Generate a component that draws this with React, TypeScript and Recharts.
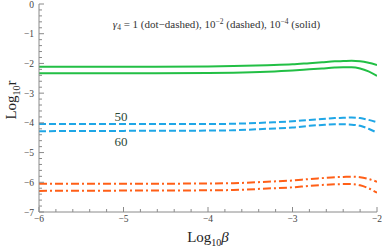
import React from 'react';
import { LineChart, Line, XAxis, YAxis, ReferenceDot } from 'recharts';

const logBeta = [-6, -5, -4, -3.7, -3.3, -3, -2.8, -2.65, -2.5, -2.4, -2.3, -2.2, -2.1, -2];
const greenUpper = [-2.11, -2.11, -2.1, -2.09, -2.06, -2.03, -1.99, -1.96, -1.93, -1.92, -1.91, -1.93, -1.98, -2.05];
const greenLower = [-2.33, -2.33, -2.32, -2.31, -2.28, -2.24, -2.2, -2.17, -2.14, -2.13, -2.13, -2.17, -2.27, -2.42];
const blueUpper = [-4.04, -4.04, -4.04, -4.03, -3.99, -3.95, -3.9, -3.87, -3.84, -3.83, -3.82, -3.84, -3.9, -3.98];
const blueLower = [-4.28, -4.27, -4.26, -4.25, -4.2, -4.16, -4.1, -4.07, -4.05, -4.05, -4.06, -4.1, -4.2, -4.33];
const orangeUpper = [-6.05, -6.05, -6.04, -6.03, -5.98, -5.94, -5.89, -5.86, -5.83, -5.82, -5.81, -5.83, -5.89, -5.98];
const orangeLower = [-6.29, -6.28, -6.27, -6.26, -6.21, -6.17, -6.12, -6.09, -6.07, -6.06, -6.06, -6.1, -6.2, -6.35];

const xTicks: number[] = [];
for (let i = -30; i <= -10; i++) xTicks.push(Math.round(i * 2) / 10);
const yTicks: number[] = [];
for (let i = -35; i <= 0; i++) yTicks.push(Math.round(i * 2) / 10);

const data = logBeta.map((b, i) => ({
  b,
  gu: greenUpper[i],
  gl: greenLower[i],
  bu: blueUpper[i],
  bl: blueLower[i],
  ou: orangeUpper[i],
  ol: orangeLower[i],
}));

const FONT = '"Liberation Serif", "DejaVu Serif", serif';
const FRAME = '#8a8a8a';
const TICKTXT = '#444';
const fmt = (v: number) => (v < 0 ? '\u2212' + Math.abs(v) : String(v));
const isMajor = (v: number) => Math.abs(v - Math.round(v)) < 1e-6;

const BottomTick = (p: any) => {
  const { x, y, payload } = p;
  const major = isMajor(payload.value);
  return (
    <g>
      <line x1={x} y1={y} x2={x} y2={y - (major ? 5 : 3)} stroke={FRAME} strokeWidth={1} />
      {major && (
        <text x={x} y={y + 10} textAnchor="middle" fontSize={9.5} fontFamily={FONT} fill={TICKTXT}>
          {fmt(payload.value)}
        </text>
      )}
    </g>
  );
};
const TopTick = (p: any) => {
  const { x, y, payload } = p;
  const major = isMajor(payload.value);
  return <line x1={x} y1={y} x2={x} y2={y + (major ? 5 : 3)} stroke={FRAME} strokeWidth={1} />;
};
const LeftTick = (p: any) => {
  const { x, y, payload } = p;
  const major = isMajor(payload.value);
  return (
    <g>
      <line x1={x} y1={y} x2={x + (major ? 5 : 3)} y2={y} stroke={FRAME} strokeWidth={1} />
      {major && (
        <text x={x - 5} y={y + 3.5} textAnchor="end" fontSize={9.5} fontFamily={FONT} fill={TICKTXT}>
          {fmt(payload.value)}
        </text>
      )}
    </g>
  );
};
const RightTick = (p: any) => {
  const { x, y, payload } = p;
  const major = isMajor(payload.value);
  return <line x1={x} y1={y} x2={x - (major ? 5 : 3)} y2={y} stroke={FRAME} strokeWidth={1} />;
};

const TitleLabel = (p: any) => {
  const { viewBox } = p;
  return (
    <text x={viewBox.x} y={viewBox.y} textAnchor="middle" fontSize={11} fontFamily={FONT} fill="#333">
      <tspan fontStyle="italic">γ</tspan>
      <tspan dy={2.5} fontSize={7.5}>4</tspan>
      <tspan dy={-2.5}> = 1 (dot−dashed), 10</tspan>
      <tspan dy={-4} fontSize={7.5}>−2</tspan>
      <tspan dy={4}> (dashed), 10</tspan>
      <tspan dy={-4} fontSize={7.5}>−4</tspan>
      <tspan dy={4}> (solid)</tspan>
    </text>
  );
};

const NumLabel = (text: string) => (p: any) => {
  const { viewBox } = p;
  return (
    <text x={viewBox.x} y={viewBox.y + 4.5} textAnchor="middle" fontSize={13} fontFamily={FONT} fill="#2d4a38">
      {text}
    </text>
  );
};

const XTitle = (p: any) => {
  const { viewBox } = p;
  const cx = viewBox.x + viewBox.width / 2;
  return (
    <text x={cx} y={242} textAnchor="middle" fontSize={15} fontFamily={FONT} fill="#222">
      <tspan>Log</tspan>
      <tspan dy={4} fontSize={10}>10</tspan>
      <tspan dy={-4} fontStyle="italic">β</tspan>
    </text>
  );
};

const YTitle = (p: any) => {
  const { viewBox } = p;
  const cy = viewBox.y + viewBox.height / 2 - 8;
  const cx = 16;
  return (
    <text x={cx} y={cy} textAnchor="middle" fontSize={15} fontFamily={FONT} fill="#222" transform={`rotate(-90 ${cx} ${cy})`}>
      <tspan>Log</tspan>
      <tspan dy={4} fontSize={10}>10</tspan>
      <tspan dy={-4}>r</tspan>
    </text>
  );
};

export default function App() {
  return (
    <div style={{ position: 'absolute', left: 0, top: 0, width: 382, height: 250, background: '#fff' }}>
      <LineChart width={382} height={250} data={data} margin={{ top: 4, right: 5, bottom: 0, left: 0 }}>
        <XAxis
          dataKey="b"
          type="number"
          domain={[-6, -2]}
          ticks={xTicks}
          interval={0}
          tickSize={0}
          tickMargin={0}
          tickLine={false}
          tick={BottomTick}
          height={38}
          stroke={FRAME}
          allowDataOverflow
          label={<XTitle />}
        />
        <XAxis
          xAxisId="top"
          orientation="top"
          type="number"
          domain={[-6, -2]}
          ticks={xTicks}
          interval={0}
          tickSize={0}
          tickMargin={0}
          tickLine={false}
          tick={TopTick}
          height={0}
          stroke={FRAME}
          allowDataOverflow
        />
        <YAxis
          type="number"
          domain={[-7, 0]}
          ticks={yTicks}
          interval={0}
          tickSize={0}
          tickMargin={0}
          tickLine={false}
          tick={LeftTick}
          width={39}
          stroke={FRAME}
          allowDataOverflow
          label={<YTitle />}
        />
        <YAxis
          yAxisId="right"
          orientation="right"
          type="number"
          domain={[-7, 0]}
          ticks={yTicks}
          interval={0}
          tickSize={0}
          tickMargin={0}
          tickLine={false}
          tick={RightTick}
          width={0}
          stroke={FRAME}
          allowDataOverflow
        />
        <Line dataKey="gu" type="monotone" stroke="#22bf45" strokeWidth={2} dot={false} isAnimationActive={false} />
        <Line dataKey="gl" type="monotone" stroke="#22bf45" strokeWidth={2} dot={false} isAnimationActive={false} />
        <Line dataKey="bu" type="monotone" stroke="#1fa6e6" strokeWidth={2} strokeDasharray="7 3" dot={false} isAnimationActive={false} />
        <Line dataKey="bl" type="monotone" stroke="#1fa6e6" strokeWidth={2} strokeDasharray="7 3" dot={false} isAnimationActive={false} />
        <Line dataKey="ou" type="monotone" stroke="#ff5f17" strokeWidth={2} strokeDasharray="8 3 2 3" dot={false} isAnimationActive={false} />
        <Line dataKey="ol" type="monotone" stroke="#ff5f17" strokeWidth={2} strokeDasharray="8 3 2 3" dot={false} isAnimationActive={false} />
        <ReferenceDot x={-3.9} y={-0.8} r={0} stroke="none" fill="none" label={<TitleLabel />} />
        <ReferenceDot x={-5.03} y={-3.78} r={0} stroke="none" fill="none" label={NumLabel('50')} />
        <ReferenceDot x={-5.03} y={-4.63} r={0} stroke="none" fill="none" label={NumLabel('60')} />
      </LineChart>
    </div>
  );
}
